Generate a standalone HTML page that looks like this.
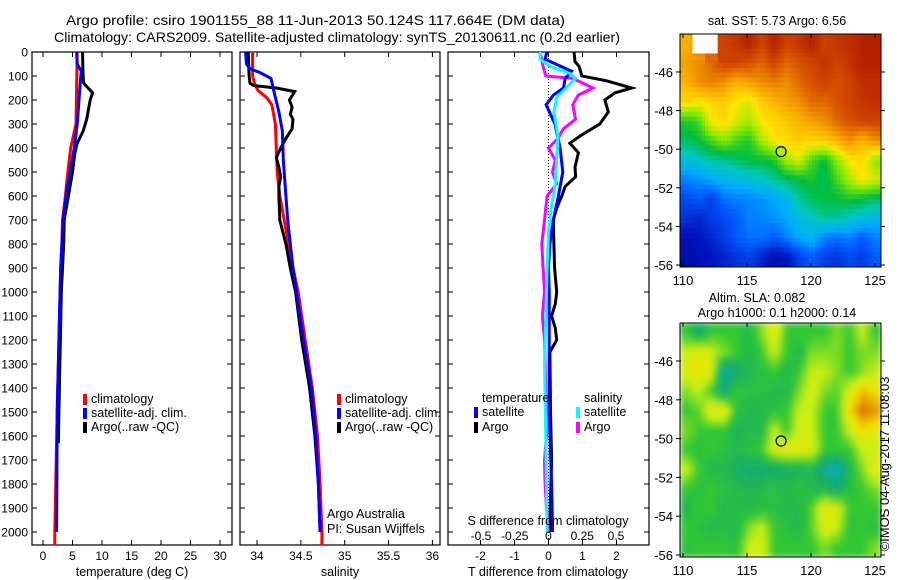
<!DOCTYPE html>
<html><head><meta charset="utf-8"><style>
html,body{margin:0;padding:0;background:#fff;}
svg{display:block;font-family:"Liberation Sans",sans-serif;}
text{fill:#000;}
</style></head><body>
<svg id="fig" width="900" height="580" viewBox="0 0 900 580" xmlns="http://www.w3.org/2000/svg">
<defs><filter id="sm" x="0" y="0" width="1" height="1"><feGaussianBlur stdDeviation="3"/></filter>
<clipPath id="cl1"><rect x="680" y="34" width="201" height="233"/></clipPath>
<clipPath id="cl2"><rect x="680" y="323" width="201" height="234"/></clipPath></defs>
<text x="66" y="25" font-size="14" textLength="499" lengthAdjust="spacingAndGlyphs">Argo profile: csiro 1901155_88 11-Jun-2013 50.124S 117.664E (DM data)</text>
<text x="54" y="42" font-size="14" textLength="566" lengthAdjust="spacingAndGlyphs">Climatology: CARS2009. Satellite-adjusted climatology: synTS_20130611.nc (0.2d earlier)</text>
<g id="plots"></g>
</svg>
<script>
// ---- depth axis ----
const depthTicks=[0,100,200,300,400,500,600,700,800,900,1000,1100,1200,1300,1400,1500,1600,1700,1800,1900,2000];
// ---- temperature panel ----
const tempTicks=[0,5,10,15,20,25,30];
const climTempDepth=[0,150,300,400,500,600,700,800,900,1000,1100,1500,2000,2055];
const climTemp=[5.8,5.7,5.6,4.7,4.2,3.8,3.3,3.2,3.0,2.9,2.8,2.4,2.0,2.0];
const satTempDepth=[0,50,80,100,200,300,400,500,600,700,800,900,1000,1100,1500,2000];
const satTemp=[5.7,5.8,6.5,6.4,6.1,5.8,5.3,4.6,3.9,3.4,3.2,3.0,2.9,2.8,2.4,2.3];
const argoTempDepth=[0,100,130,170,200,280,330,380,420,500,600,700,800,900,1000,1500,1630];
const argoTemp=[6.7,6.8,6.9,8.4,8.0,7.4,6.8,5.8,5.4,5.0,4.3,3.6,3.5,3.3,3.1,2.7,2.6];
// ---- salinity panel ----
const salTicks=[34,34.5,35,35.5,36];
const climSalDepth=[0,100,130,160,190,220,300,400,500,600,700,800,900,1000,1200,1400,1600,1800,2000,2055];
const climSal=[33.95,33.95,33.97,34.01,34.11,34.17,34.21,34.22,34.23,34.26,34.31,34.36,34.41,34.47,34.55,34.63,34.69,34.72,34.74,34.74];
const satSalDepth=[0,50,70,85,110,160,250,330,450,600,700,800,900,1000,1200,1400,1600,1800,2000];
const satSal=[33.87,33.88,33.92,34.03,34.16,34.19,34.25,34.29,34.30,34.33,34.35,34.38,34.41,34.45,34.53,34.62,34.67,34.70,34.72];
const argoSalDepth=[0,100,130,140,150,165,200,230,260,280,320,360,400,440,480,520,560,600,700,800,900,1000,1200,1400,1600,1800,2000];
const argoSal=[33.90,33.91,33.92,33.96,34.22,34.43,34.37,34.40,34.38,34.41,34.40,34.33,34.27,34.22,34.25,34.27,34.25,34.25,34.26,34.33,34.38,34.44,34.51,34.60,34.66,34.70,34.72];
// ---- difference panel ----
const tdiffTicks=[-2,-1,0,1,2];
const sdiffTicks=[-0.5,-0.25,0,0.25,0.5];
const sdiffTickLabels=["-0.5","-0.25","0","0.25","0.5"];
const satTdiffDepth=[0,30,80,110,150,180,220,300,400,500,600,700,800,900,1000,1500,1800,2000];
const satTdiff=[-0.05,-0.1,0.68,0.49,0.44,0.14,-0.07,0.19,0.34,0.42,0.29,0.14,0.04,0.0,0.02,0.02,0.09,0.12];
const argoTdiffDepth=[0,40,60,100,120,150,170,200,250,300,350,380,420,480,520,560,600,650,700,800,900,1000,1050,1100,1150,1200,1250,1500,1700,1900,2000];
const argoTdiff=[0.75,0.78,0.9,0.98,1.71,2.45,1.96,1.66,1.76,1.51,0.93,0.63,0.88,0.78,0.8,0.49,0.39,0.24,0.14,0.16,0.18,0.24,0.2,0.09,0.2,0.24,0.04,0.06,0.09,0.05,0.05];
const satSdiffDepth=[0,30,60,90,110,150,190,250,350,450,550,650,750,900,1000,1300,1600,2000];
const satSdiff=[-0.063,-0.063,0.01,0.16,0.20,0.13,0.06,0.04,0.07,0.06,0.05,0.02,0.0,-0.01,-0.015,-0.03,-0.02,-0.01];
const argoSdiffDepth=[0,30,60,100,110,150,180,220,280,320,360,400,450,500,550,600,700,800,900,1000,1100,1200,1400,1600,1700,1800,1900,2000];
const argoSdiff=[-0.068,-0.05,-0.04,-0.02,0.18,0.33,0.22,0.18,0.20,0.11,0.07,0.0,0.05,0.03,0.06,-0.01,-0.03,-0.05,-0.04,-0.03,-0.045,-0.03,-0.02,-0.015,-0.03,-0.025,-0.015,0.0];
// ---- maps ----
const lonTicks=[110,115,120,125];
const latTicks=[-46,-48,-50,-52,-54,-56];
const argoLon=117.664, argoLat=-50.124;
const sstGrid=[
[0.75,-1,-1,0.9,0.92,0.95,0.9,0.95,0.9,0.92,0.95,0.9,0.92,0.93,0.95,0.95],
[0.78,0.8,0.85,0.9,0.9,0.88,0.85,0.9,0.85,0.88,0.9,0.92,0.9,0.92,0.95,0.95],
[0.75,0.8,0.82,0.8,0.75,0.78,0.8,0.82,0.8,0.85,0.88,0.9,0.88,0.9,0.93,0.93],
[0.7,0.68,0.7,0.72,0.68,0.65,0.72,0.75,0.78,0.8,0.85,0.85,0.88,0.9,0.92,0.93],
[0.52,0.55,0.68,0.7,0.65,0.62,0.68,0.7,0.72,0.75,0.78,0.8,0.85,0.88,0.9,0.9],
[0.48,0.5,0.55,0.6,0.55,0.52,0.62,0.68,0.7,0.72,0.7,0.72,0.75,0.8,0.75,0.8],
[0.4,0.42,0.45,0.45,0.48,0.5,0.5,0.52,0.62,0.65,0.55,0.5,0.6,0.68,0.7,0.6],
[0.3,0.32,0.35,0.38,0.38,0.4,0.42,0.45,0.48,0.5,0.52,0.48,0.55,0.62,0.68,0.65],
[0.22,0.25,0.2,0.28,0.3,0.3,0.32,0.35,0.38,0.45,0.48,0.5,0.5,0.52,0.5,0.48],
[0.18,0.15,0.2,0.22,0.25,0.3,0.3,0.32,0.35,0.4,0.42,0.45,0.45,0.42,0.4,0.38],
[0.1,0.12,0.15,0.2,0.25,0.28,0.28,0.25,0.3,0.35,0.38,0.3,0.28,0.3,0.25,0.3],
[0.08,0.1,0.12,0.15,0.18,0.2,0.15,0.1,0.12,0.2,0.25,0.2,0.18,0.22,0.2,0.25]];
const slaGrid=[
[0.5,0.3,0.5,0.5,0.5,0.4,0.6,0.8,0.5,0.5,0.5,0.5,0.6,0.5,0.7,0.5],
[0.7,0.8,0.7,0.6,0.5,0.4,0.5,0.7,0.5,0.4,0.6,0.6,0.6,0.5,0.6,0.6],
[0.75,0.85,0.75,0.15,0.3,0.4,0.45,0.5,0.4,0.5,0.7,0.7,0.6,0.5,0.6,0.7],
[0.6,0.7,0.5,0.3,0.5,0.45,0.45,0.4,0.4,0.6,0.75,0.6,0.55,0.75,0.9,0.85],
[0.5,0.55,0.8,0.8,0.45,0.4,0.4,0.45,0.5,0.7,0.7,0.5,0.5,0.85,1.0,0.95],
[0.6,0.5,0.5,0.5,0.35,0.4,0.4,0.7,0.5,0.75,0.7,0.5,0.5,0.7,0.85,0.8],
[0.5,0.45,0.5,0.45,0.4,0.45,0.5,0.75,0.8,0.8,0.75,0.5,0.5,0.5,0.7,0.7],
[0.7,0.5,0.4,0.4,0.35,0.3,0.3,0.3,0.35,0.35,0.4,0.2,0.1,0.4,0.6,0.8],
[0.5,0.45,0.5,0.45,0.4,0.4,0.4,0.45,0.4,0.45,0.4,0.4,0.3,0.45,0.5,0.6],
[0.4,0.5,0.5,0.4,0.45,0.4,0.45,0.45,0.4,0.4,0.55,0.8,0.75,0.5,0.5,0.5],
[0.5,0.45,0.4,0.45,0.4,0.6,0.7,0.5,0.45,0.4,0.55,0.75,0.7,0.45,0.5,0.45],
[0.45,0.5,0.5,0.5,0.45,0.7,0.75,0.5,0.5,0.5,0.5,0.6,0.5,0.5,0.5,0.6]];

const NS='http://www.w3.org/2000/svg';
const root=document.getElementById('plots');
function mk(tag,attrs,parent,txt){const e=document.createElementNS(NS,tag);for(const k in attrs)e.setAttribute(k,attrs[k]);if(txt!==undefined)e.textContent=txt;(parent||root).appendChild(e);return e;}
const TOP=52,BOT=545;
const yD=d=>TOP+d*0.24;
const xT=t=>43+t*5.9;
const xS=s=>257+(s-34)*87.7;
const xTd=v=>548.5+v*34;
const xSd=v=>548.5+v*135;

function frame(x0,x1,name){
  const r=mk('rect',{x:x0,y:TOP,width:x1-x0,height:BOT-TOP,fill:'none',stroke:'#000','stroke-width':1.2});
  
  
  depthTicks.forEach(d=>{
    const t1=mk('line',{x1:x0,x2:x0+5,y1:yD(d),y2:yD(d),stroke:'#000'});
    
    
    const t2=mk('line',{x1:x1-5,x2:x1,y1:yD(d),y2:yD(d),stroke:'#000'});
    
    
  });
}
function xticks(vals,f,labels,name,title,titleX){
  vals.forEach((v,i)=>{
    const x=f(v);
    const a=mk('line',{x1:x,x2:x,y1:BOT,y2:BOT-5,stroke:'#000'});
    
    
    const b=mk('line',{x1:x,x2:x,y1:TOP,y2:TOP+5,stroke:'#000'});
    
    
    const t=mk('text',{x:x,y:560,'font-size':12,'text-anchor':'middle'},root,labels?labels[i]:String(v));
    
    
  });
  const tt=mk('text',{x:titleX,y:576,'font-size':12.5,'text-anchor':'middle'},root,title);
  
  
}
function series(depths,vals,f,color,name,w){
  const pts=depths.map((d,i)=>f(vals[i]).toFixed(1)+','+yD(d).toFixed(1)).join(' ');
  const p=mk('polyline',{points:pts,fill:'none',stroke:color,'stroke-width':w||3,'stroke-linejoin':'miter'});
  
  
}
function legend(x,y,color,label,name){
  const r=mk('rect',{x:x,y:y-9,width:4,height:11,fill:color});
  
  
  const t=mk('text',{x:x+8,y:y,'font-size':12.5},root,label);
  
  
}

depthTicks.forEach(d=>{
  const t=mk('text',{x:28,y:yD(d)+4.5,'font-size':12,'text-anchor':'end'},root,String(d));
  
  
});

frame(32,232,'temperature-panel');
xticks(tempTicks,xT,null,'temperature-axis','temperature (deg C)',132);
series(climTempDepth,climTemp,xT,'#ff0000','clim-temperature-line');
series(argoTempDepth,argoTemp,xT,'#000000','argo-temperature-line');
series(satTempDepth,satTemp,xT,'#0000ff','sat-temperature-line');
legend(83,403,'#ff0000','climatology','temp-legend-climatology');
legend(83,417,'#0000ff','satellite-adj. clim.','temp-legend-satellite');
legend(83,431,'#000000','Argo(..raw -QC)','temp-legend-argo');

frame(240,440,'salinity-panel');
xticks(salTicks,xS,null,'salinity-axis','salinity',340);
series(climSalDepth,climSal,xS,'#ff0000','clim-salinity-line');
series(argoSalDepth,argoSal,xS,'#000000','argo-salinity-line');
series(satSalDepth,satSal,xS,'#0000ff','sat-salinity-line');
legend(337,403,'#ff0000','climatology','sal-legend-climatology');
legend(337,417,'#0000ff','satellite-adj. clim.','sal-legend-satellite');
legend(337,431,'#000000','Argo(..raw -QC)','sal-legend-argo');
let t=mk('text',{x:327,y:518,'font-size':12.5},root,'Argo Australia');


t=mk('text',{x:327,y:533,'font-size':12.5},root,'PI: Susan Wijffels');



frame(448,649,'difference-panel');
xticks(tdiffTicks,xTd,null,'tdiff-axis','T difference from climatology',548);
const zl=mk('line',{x1:xTd(0),x2:xTd(0),y1:TOP,y2:BOT,stroke:'#000','stroke-dasharray':'1,2'});


series(argoTdiffDepth,argoTdiff,xTd,'#000000','argo-tdiff-line');
series(argoSdiffDepth,argoSdiff,xSd,'#ff00ff','argo-sdiff-line');
series(satTdiffDepth,satTdiff,xTd,'#0000ff','sat-tdiff-line');
series(satSdiffDepth,satSdiff,xSd,'#00ffff','sat-sdiff-line');
sdiffTicks.forEach((v,i)=>{
  const s=mk('text',{x:xSd(v),y:540,'font-size':12,'text-anchor':'middle'},root,sdiffTickLabels[i]);
  
  
});
t=mk('text',{x:548,y:525,'font-size':12.5,'text-anchor':'middle'},root,'S difference from climatology');


t=mk('text',{x:482,y:402,'font-size':12.5},root,'temperature');


t=mk('text',{x:584,y:402,'font-size':12.5},root,'salinity');


legend(474,416,'#0000ff','satellite','diff-legend-temp-satellite');
legend(474,431,'#000000','Argo','diff-legend-temp-argo');
legend(576,416,'#00ffff','satellite','diff-legend-sal-satellite');
legend(576,431,'#ff00ff','Argo','diff-legend-sal-argo');

// maps
const stops=[[0,[0,0,130]],[0.12,[0,20,190]],[0.25,[0,90,255]],[0.35,[0,170,255]],[0.43,[0,200,190]],[0.5,[0,190,60]],[0.6,[140,235,0]],[0.68,[255,230,0]],[0.78,[245,160,0]],[0.88,[215,80,0]],[1,[160,0,0]]];
const slaStops=[[0,[0,180,230]],[0.3,[20,170,110]],[0.5,[50,200,50]],[0.7,[200,240,20]],[0.85,[240,225,0]],[1,[225,110,0]]];
function cmap(v,st){
  for(let i=1;i<st.length;i++){if(v<=st[i][0]){const a=st[i-1],b=st[i];const f=(v-a[0])/(b[0]-a[0]);
    return 'rgb('+a[1].map((c,k)=>Math.round(c+(b[1][k]-c)*f)).join(',')+')';}}
  return 'rgb('+st[st.length-1][1].join(',')+')';
}
function sample(grid,r,c){
  const R=grid.length,C=grid[0].length;
  r=Math.max(0,Math.min(R-1,r));c=Math.max(0,Math.min(C-1,c));
  const r0=Math.floor(r),c0=Math.floor(c),r1=Math.min(R-1,r0+1),c1=Math.min(C-1,c0+1);
  const fr=r-r0,fc=c-c0;
  const g=(a,b)=>grid[a][b];
  if(g(r0,c0)<0||g(Math.round(r),Math.round(c))<0) return g(Math.round(r),Math.round(c));
  const v=k=>k<0?0.8:k;
  return v(g(r0,c0))*(1-fr)*(1-fc)+v(g(r0,c1))*(1-fr)*fc+v(g(r1,c0))*fr*(1-fc)+v(g(r1,c1))*fr*fc;
}
function drawMap(x0,y0,w,h,grid,st,name,blur,clip,titleLines,circleFill,sub){
  const lonX=l=>683+(l-110)*12.8;
  const latY=l=>y0+38+(-46-l)*((h-40)/10);
  const g=mk('g',{'clip-path':'url(#'+clip+')'});
  
  
  const inner=mk('g',blur?{filter:'url(#sm)'}:{},g);
  const rows=grid.length*sub,cols=grid[0].length*sub;
  const cw=w/cols,ch=h/rows;
  for(let r=0;r<rows;r++)for(let c=0;c<cols;c++){
    const v=sample(grid,(r+0.5)/sub-0.5,(c+0.5)/sub-0.5);
    const cell=mk('rect',{x:(x0+c*cw).toFixed(1),y:(y0+r*ch).toFixed(1),width:(cw+0.6).toFixed(1),height:(ch+0.6).toFixed(1),fill:v<0?'#ffffff':cmap(v,st)},inner);
    
    
  }
  const fr=mk('rect',{x:x0,y:y0,width:w,height:h,fill:'none',stroke:'#000','stroke-width':1});
  
  
  lonTicks.forEach(l=>{
    const x=lonX(l);
    const a=mk('line',{x1:x,x2:x,y1:y0+h,y2:y0+h-4,stroke:'#000'});
    
    
    const b=mk('line',{x1:x,x2:x,y1:y0,y2:y0+4,stroke:'#000'});
    
    
    const tl=mk('text',{x:x,y:y0+h+18,'font-size':13,'text-anchor':'middle'},root,String(l));
    
    
  });
  latTicks.forEach(l=>{
    const y=latY(l);
    const a=mk('line',{x1:x0-4,x2:x0+1,y1:y,y2:y,stroke:'#000'});
    
    
    const b=mk('line',{x1:x0+w,x2:x0+w+4,y1:y,y2:y,stroke:'#000'});
    
    
    const tl=mk('text',{x:x0-7,y:y+5,'font-size':13,'text-anchor':'end'},root,String(l));
    
    
  });
  const c=mk('circle',{cx:lonX(argoLon),cy:latY(argoLat),r:5,fill:circleFill,stroke:'#000','stroke-width':1.2});
  
  
  titleLines.forEach((s,i)=>{
    const tt=mk('text',{x:s[1],y:s[2],'font-size':12.5,'text-anchor':'middle'},root,s[0]);
    
    
  });
}
drawMap(680,34,201,233,sstGrid,stops,'sst-map',false,'cl1',[['sat. SST: 5.73 Argo: 6.56',777,25]],'rgb(170,240,0)',4);
drawMap(680,323,201,234,slaGrid,slaStops,'sla-map',true,'cl2',[['Altim. SLA: 0.082',757,302],['Argo h1000: 0.1 h2000: 0.14',777,317]],'none',3);
t=mk('text',{x:0,y:0,'font-size':13,'text-anchor':'middle',transform:'translate(889,464) rotate(-90)'},root,'©IMOS 04-Aug-2017 11:08:03');


</script>
</body></html>
